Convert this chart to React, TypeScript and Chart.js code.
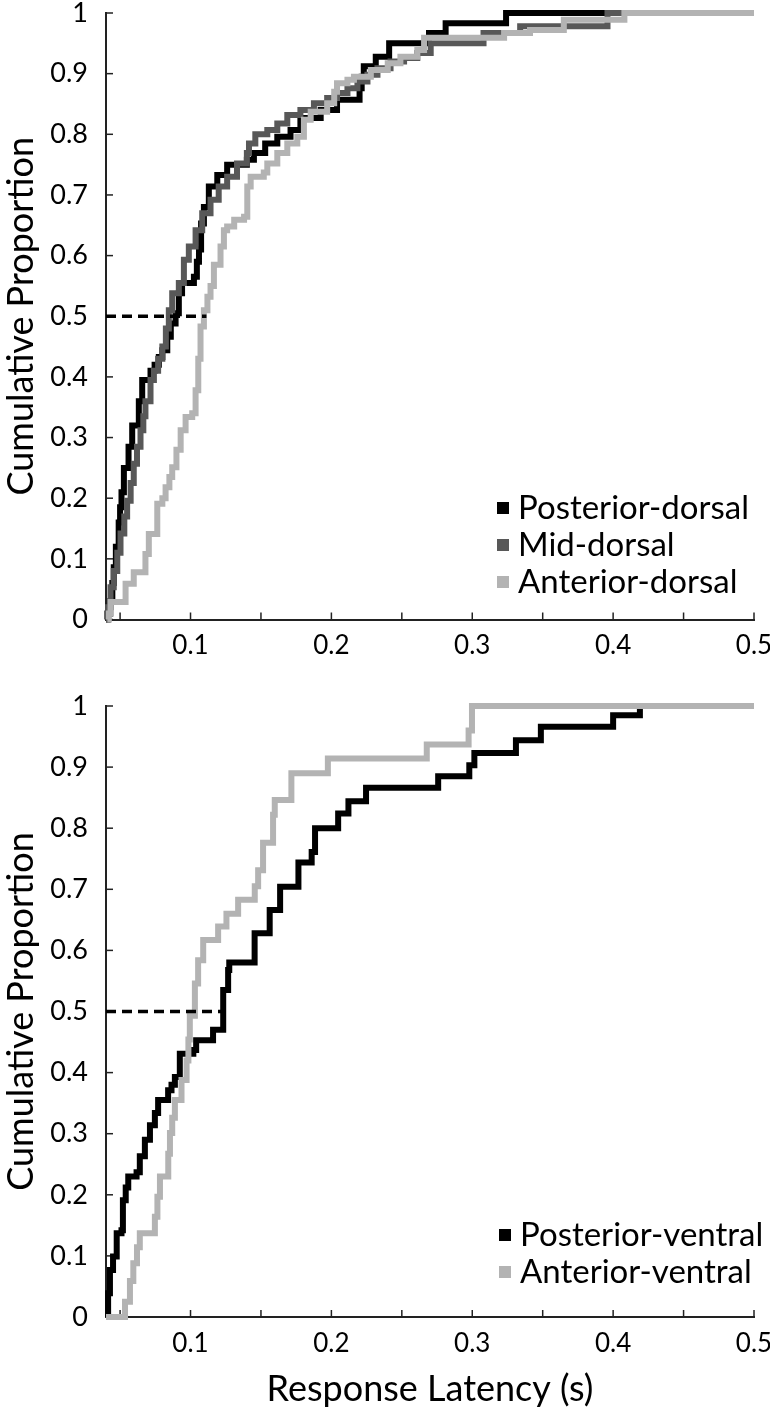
import React, { useEffect, useRef } from "react";
import { Chart, registerables } from "chart.js";
Chart.register(...registerables);

const FONT = "Lato, 'Open Sans', sans-serif";

// ---------- Top panel (dorsal) ----------
const posteriorDorsalX = [0.040, 0.041, 0.043, 0.0445, 0.0455, 0.047, 0.049, 0.050, 0.051, 0.0527, 0.056, 0.0586, 0.0633, 0.0657, 0.0716, 0.0745, 0.0775, 0.080, 0.0835, 0.086, 0.0894, 0.0917, 0.094, 0.1024, 0.1045, 0.106, 0.1075, 0.1095, 0.113, 0.119, 0.126, 0.140, 0.145, 0.153, 0.1616, 0.171, 0.178, 0.1924, 0.204, 0.220, 0.2215, 0.223, 0.2315, 0.241, 0.2693, 0.2811, 0.324, 0.5];
const posteriorDorsalY = [0.0, 0.01, 0.03, 0.06, 0.086, 0.12, 0.16, 0.185, 0.21, 0.25, 0.285, 0.32, 0.36, 0.395, 0.41, 0.42, 0.433, 0.444, 0.466, 0.488, 0.505, 0.538, 0.555, 0.565, 0.59, 0.61, 0.653, 0.68, 0.714, 0.733, 0.75, 0.758, 0.769, 0.785, 0.796, 0.807, 0.827, 0.84, 0.857, 0.876, 0.895, 0.912, 0.928, 0.95, 0.967, 0.983, 1.0, 1.0];

const midDorsalX = [0.040, 0.0415, 0.0432, 0.0455, 0.048, 0.0503, 0.053, 0.055, 0.0575, 0.0597, 0.062, 0.0645, 0.0665, 0.068, 0.0716, 0.074, 0.077, 0.080, 0.0825, 0.0846, 0.087, 0.0917, 0.0953, 0.0988, 0.1036, 0.1083, 0.1142, 0.120, 0.126, 0.133, 0.140, 0.1415, 0.146, 0.1545, 0.1616, 0.1687, 0.178, 0.1876, 0.197, 0.204, 0.2114, 0.2185, 0.2256, 0.2327, 0.242, 0.2516, 0.261, 0.2705, 0.308, 0.334, 0.396, 0.5];
const midDorsalY = [0.0, 0.02, 0.053, 0.08, 0.11, 0.142, 0.17, 0.196, 0.225, 0.257, 0.285, 0.312, 0.335, 0.36, 0.395, 0.41, 0.43, 0.45, 0.48, 0.51, 0.538, 0.555, 0.593, 0.615, 0.642, 0.67, 0.692, 0.714, 0.73, 0.752, 0.769, 0.785, 0.8, 0.807, 0.818, 0.832, 0.84, 0.851, 0.86, 0.868, 0.876, 0.887, 0.898, 0.909, 0.92, 0.926, 0.934, 0.95, 0.967, 0.978, 1.0, 1.0];

const anteriorDorsalX = [0.041, 0.042, 0.0432, 0.0539, 0.0597, 0.068, 0.0704, 0.0764, 0.080, 0.0823, 0.085, 0.087, 0.090, 0.093, 0.0965, 0.1012, 0.1036, 0.1055, 0.1071, 0.1095, 0.112, 0.1142, 0.1166, 0.1213, 0.1237, 0.126, 0.131, 0.138, 0.1403, 0.1427, 0.152, 0.1545, 0.1616, 0.1687, 0.1758, 0.1805, 0.1853, 0.197, 0.202, 0.204, 0.2114, 0.216, 0.228, 0.240, 0.249, 0.261, 0.2658, 0.3226, 0.341, 0.365, 0.408, 0.5];
const anteriorDorsalY = [0.0, 0.01, 0.029, 0.059, 0.078, 0.108, 0.141, 0.191, 0.2, 0.218, 0.235, 0.251, 0.28, 0.312, 0.334, 0.34, 0.378, 0.43, 0.483, 0.51, 0.532, 0.55, 0.585, 0.615, 0.642, 0.648, 0.659, 0.664, 0.714, 0.73, 0.737, 0.752, 0.769, 0.785, 0.796, 0.824, 0.837, 0.851, 0.87, 0.884, 0.89, 0.895, 0.906, 0.917, 0.928, 0.939, 0.959, 0.967, 0.972, 0.989, 1.0, 1.0];

// ---------- Bottom panel (ventral) ----------
const posteriorVentralX = [0.040, 0.0415, 0.0428, 0.045, 0.0476, 0.051, 0.052, 0.054, 0.0558, 0.0617, 0.064, 0.0676, 0.0712, 0.0747, 0.077, 0.0841, 0.0865, 0.0889, 0.0924, 0.102, 0.104, 0.116, 0.1232, 0.1267, 0.1275, 0.1455, 0.1562, 0.1636, 0.1766, 0.186, 0.1884, 0.2048, 0.2121, 0.2246, 0.2758, 0.2979, 0.3015, 0.331, 0.3487, 0.400, 0.419, 0.5];
const posteriorVentralY = [0.0, 0.039, 0.077, 0.099, 0.137, 0.142, 0.191, 0.212, 0.23, 0.237, 0.263, 0.29, 0.314, 0.334, 0.355, 0.371, 0.38, 0.393, 0.431, 0.437, 0.453, 0.47, 0.535, 0.568, 0.58, 0.628, 0.666, 0.704, 0.744, 0.761, 0.8, 0.824, 0.844, 0.866, 0.885, 0.903, 0.923, 0.944, 0.966, 0.985, 1.0, 1.0];

const anteriorVentralX = [0.040, 0.0535, 0.057, 0.0594, 0.062, 0.064, 0.0747, 0.0765, 0.0783, 0.0842, 0.0854, 0.087, 0.0889, 0.0936, 0.0972, 0.0985, 0.0995, 0.1031, 0.1054, 0.109, 0.1196, 0.1255, 0.1338, 0.1456, 0.148, 0.1515, 0.1586, 0.1598, 0.1716, 0.1975, 0.2677, 0.2974, 0.2998, 0.5];
const anteriorVentralY = [0.0, 0.025, 0.059, 0.088, 0.114, 0.137, 0.164, 0.197, 0.23, 0.267, 0.301, 0.326, 0.355, 0.388, 0.42, 0.454, 0.493, 0.546, 0.584, 0.617, 0.639, 0.66, 0.683, 0.705, 0.731, 0.776, 0.822, 0.846, 0.89, 0.914, 0.937, 0.96, 1.0, 1.0];

// ---------- Median reference (dashed) ----------
const topMedianX = [0.04, 0.1113];
const bottomMedianX = [0.04, 0.1235];
const medianY = [0.5, 0.5];

// ---------- Axes ----------
const xTickValues = [0.05, 0.1, 0.15, 0.2, 0.25, 0.3, 0.35, 0.4, 0.45, 0.5];
const xTickLabels = ["", "0.1", "", "0.2", "", "0.3", "", "0.4", "", "0.5"];
const yTickValues = [0, 0.1, 0.2, 0.3, 0.4, 0.5, 0.6, 0.7, 0.8, 0.9, 1];
const yTickLabels = ["0", "0.1", "0.2", "0.3", "0.4", "0.5", "0.6", "0.7", "0.8", "0.9", "1"];
const xMin = 0.04;
const xMax = 0.5;

const topLabels = ["Posterior-dorsal", "Mid-dorsal", "Anterior-dorsal"];
const bottomLabels = ["Posterior-ventral", "Anterior-ventral"];
const yTitle = "Cumulative Proportion";
const xTitle = "Response Latency (s)";

const BLACK = "#000000";
const DARK = "#585858";
const LIGHT = "#b3b3b3";

function pts(xs: number[], ys: number[]) {
  return xs.map((x, i) => ({ x, y: ys[i] }));
}

const inwardTicks = {
  id: "inwardTicks",
  beforeDatasetsDraw(chart: any) {
    const { ctx, chartArea, scales } = chart;
    ctx.save();
    ctx.strokeStyle = "#222";
    ctx.lineWidth = 1.5;
    xTickValues.forEach((v) => {
      const px = scales.x.getPixelForValue(v);
      ctx.beginPath();
      ctx.moveTo(px, chartArea.bottom);
      ctx.lineTo(px, chartArea.bottom - 7);
      ctx.stroke();
    });
    yTickValues.forEach((v) => {
      const py = scales.y.getPixelForValue(v);
      ctx.beginPath();
      ctx.moveTo(chartArea.left, py);
      ctx.lineTo(chartArea.left + 7, py);
      ctx.stroke();
    });
    ctx.restore();
  },
};

const boxLegend = {
  id: "boxLegend",
  afterDraw(chart: any, _args: any, opts: any) {
    const { ctx } = chart;
    const items = chart.data.datasets.filter((d: any) => d.label);
    ctx.save();
    items.forEach((d: any, i: number) => {
      const y = opts.y + i * opts.gap;
      ctx.fillStyle = d.borderColor;
      ctx.fillRect(opts.x - 6, y - 6, 12, 12);
      ctx.fillStyle = "#000";
      ctx.font = `${opts.size}px ${FONT}`;
      ctx.textBaseline = "middle";
      ctx.textAlign = "left";
      ctx.fillText(d.label, opts.x + 15, y);
    });
    ctx.restore();
  },
};

function makeScales(showXTitle: boolean, xHeight: number) {
  return {
    x: {
      type: "linear",
      min: xMin,
      max: xMax,
      grid: { display: false, drawTicks: false },
      border: { display: true, color: "#222", width: 2 },
      afterBuildTicks: (s: any) => {
        s.ticks = xTickValues.map((v) => ({ value: v }));
      },
      afterFit: (s: any) => {
        s.height = xHeight;
        s.paddingLeft = 0;
        s.paddingRight = 0;
      },
      ticks: {
        autoSkip: false,
        maxRotation: 0,
        padding: 11,
        color: "#000",
        font: { family: FONT, size: 26 },
        callback: (_v: any, i: number) => xTickLabels[i],
      },
      title: {
        display: showXTitle,
        text: xTitle,
        color: "#000",
        font: { family: FONT, size: 36 },
        padding: { top: 0, bottom: 0 },
      },
    },
    y: {
      type: "linear",
      min: 0,
      max: 1,
      grid: { display: false, drawTicks: false },
      border: { display: true, color: "#222", width: 2 },
      afterBuildTicks: (s: any) => {
        s.ticks = yTickValues.map((v) => ({ value: v }));
      },
      afterFit: (s: any) => {
        s.width = 106;
        s.paddingTop = 0;
        s.paddingBottom = 0;
      },
      ticks: {
        autoSkip: false,
        padding: 18,
        color: "#000",
        font: { family: FONT, size: 27 },
        callback: (_v: any, i: number) => yTickLabels[i],
      },
      title: {
        display: true,
        text: yTitle,
        color: "#000",
        font: { family: FONT, size: 36 },
        padding: { top: 0, bottom: 0 },
      },
    },
  };
}

function lineDs(label: string, data: any[], color: string, order: number) {
  return {
    label,
    data,
    borderColor: color,
    backgroundColor: color,
    borderWidth: 6,
    pointRadius: 0,
    stepped: "before",
    fill: false,
    clip: false,
    order,
  };
}

function dashDs(xs: number[]) {
  return {
    label: "",
    data: pts(xs, medianY),
    borderColor: "#000",
    borderWidth: 3.5,
    borderDash: [10, 6],
    pointRadius: 0,
    fill: false,
    clip: false,
    order: 0,
  };
}

export default function App() {
  const topRef = useRef<HTMLCanvasElement | null>(null);
  const botRef = useRef<HTMLCanvasElement | null>(null);

  useEffect(() => {
    const top = new Chart(topRef.current as HTMLCanvasElement, {
      type: "line",
      data: {
        datasets: [
          lineDs(topLabels[0], pts(posteriorDorsalX, posteriorDorsalY), BLACK, 3),
          lineDs(topLabels[1], pts(midDorsalX, midDorsalY), DARK, 2),
          lineDs(topLabels[2], pts(anteriorDorsalX, anteriorDorsalY), LIGHT, 1),
          dashDs(topMedianX),
        ] as any,
      },
      options: {
        responsive: false,
        animation: false,
        layout: { padding: { top: 13, right: 16, left: 0, bottom: 0 } },
        scales: makeScales(false, 60.5) as any,
        plugins: {
          legend: { display: false },
          tooltip: { enabled: false },
          boxLegend: { x: 503, y: 508, gap: 37, size: 33 },
        } as any,
      },
      plugins: [inwardTicks, boxLegend],
    });
    const bot = new Chart(botRef.current as HTMLCanvasElement, {
      type: "line",
      data: {
        datasets: [
          lineDs(bottomLabels[0], pts(posteriorVentralX, posteriorVentralY), BLACK, 3),
          lineDs(bottomLabels[1], pts(anteriorVentralX, anteriorVentralY), LIGHT, 1),
          dashDs(bottomMedianX),
        ] as any,
      },
      options: {
        responsive: false,
        animation: false,
        layout: { padding: { top: 16, right: 16, left: 0, bottom: 0 } },
        scales: makeScales(true, 94) as any,
        plugins: {
          legend: { display: false },
          tooltip: { enabled: false },
          boxLegend: { x: 505, y: 545, gap: 37, size: 33 },
        } as any,
      },
      plugins: [inwardTicks, boxLegend],
    });
    return () => {
      top.destroy();
      bot.destroy();
    };
  }, []);

  return (
    <div style={{ position: "absolute", left: 0, top: 0, width: 770, height: 1411, background: "#fff" }}>
      <canvas ref={topRef} width={770} height={680} style={{ position: "absolute", left: 0, top: 0, width: 770, height: 680 }} />
      <canvas ref={botRef} width={770} height={721} style={{ position: "absolute", left: 0, top: 690, width: 770, height: 721 }} />
    </div>
  );
}
